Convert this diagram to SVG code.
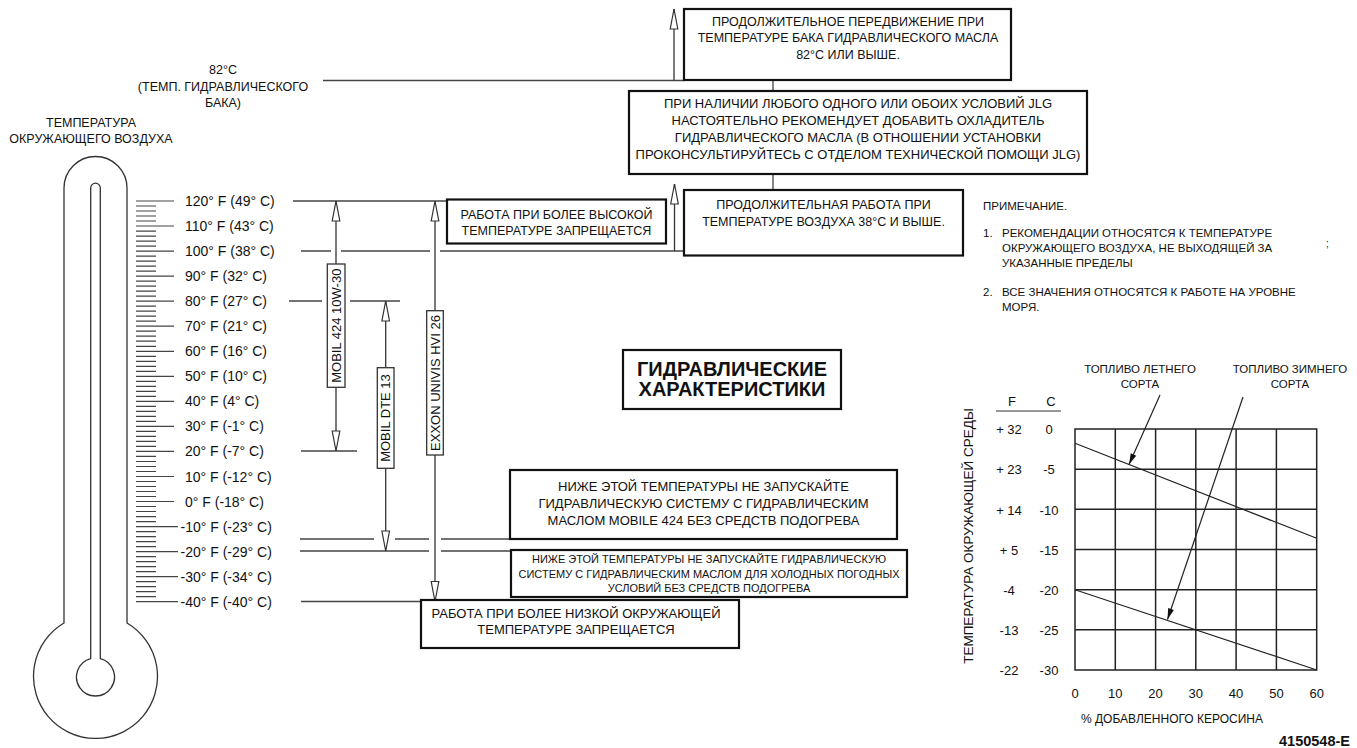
<svg xmlns="http://www.w3.org/2000/svg" width="1357" height="748" viewBox="0 0 1357 748">
<defs>
<style>
text{font-family:"Liberation Sans",Arial,sans-serif;fill:#111}
.t{font-size:13px;text-anchor:middle}
.s{font-size:12.5px;text-anchor:middle}
.sm{font-size:11px;text-anchor:middle}
.sc{font-size:14px}
.v{font-size:13px;text-anchor:middle}
.n{font-size:11.5px}
.cn{font-size:13px;text-anchor:middle}
.ttl{font-size:20px;font-weight:bold;text-anchor:middle}
.box{fill:#fff;stroke:#111;stroke-width:2.2}
.lbl{fill:#fff;stroke:#333;stroke-width:1.3}
.ln{fill:none;stroke:#444;stroke-width:1.3}
.arr{fill:none;stroke:#333;stroke-width:1.3;marker-end:url(#oa)}
.darr{fill:none;stroke:#333;stroke-width:1.3;marker-start:url(#oa);marker-end:url(#oa)}
.farr{fill:none;stroke:#222;stroke-width:1.2;marker-end:url(#fa)}
.grid{fill:none;stroke:#222;stroke-width:1.5}
.thermo{fill:none;stroke:#333;stroke-width:1.3}
.tick{fill:none;stroke:#444;stroke-width:1.2}
</style>
<marker id="oa" viewBox="-22 -5 24 10" refX="0" refY="0" markerWidth="24" markerHeight="10" markerUnits="userSpaceOnUse" orient="auto-start-reverse">
<path d="M0,0 L-20,-3.8 L-20,3.8 Z" fill="#fff" stroke="#333" stroke-width="1.2"/>
</marker>
<marker id="fa" viewBox="-12 -4 13 8" refX="0" refY="0" markerWidth="13" markerHeight="8" markerUnits="userSpaceOnUse" orient="auto">
<path d="M0,0 L-11,-3 L-11,3 Z" fill="#111"/>
</marker>
</defs>
<rect width="1357" height="748" fill="#fff"/>

<g id="thermometer">
<path class="thermo" d="M64,623 V188 A31.5,31.5 0 0 1 127,188 V623 A62,62 0 1 1 64,623 Z"/>
<path class="thermo" d="M90.7,658.6 V188 A4.8,4.8 0 0 1 100.3,188 V658.6 A19,19 0 1 1 90.7,658.6 Z"/>
<text class="s" x="91" y="127">ТЕМПЕРАТУРА</text>
<text class="s" x="91" y="143">ОКРУЖАЮЩЕГО ВОЗДУХА</text>
</g>

<g id="scale">
<path class="tick" d="M136,206H156M136,211H156M136,216H156M136,221H156M136,231.1H156M136,236.1H156M136,241.1H156M136,246.1H156M136,256.1H156M136,261.1H156M136,266.1H156M136,271.1H156M136,281.1H156M136,286.1H156M136,291.2H156M136,296.2H156M136,306.2H156M136,311.2H156M136,316.2H156M136,321.2H156M136,331.2H156M136,336.2H156M136,341.2H156M136,346.3H156M136,356.3H156M136,361.3H156M136,366.3H156M136,371.3H156M136,381.3H156M136,386.3H156M136,391.3H156M136,396.3H156M136,406.4H156M136,411.4H156M136,416.4H156M136,421.4H156M136,431.4H156M136,436.4H156M136,441.4H156M136,446.4H156M136,456.4H156M136,461.5H156M136,466.5H156M136,471.5H156M136,481.5H156M136,486.5H156M136,491.5H156M136,496.5H156M136,506.5H156M136,511.5H156M136,516.6H156M136,521.6H156M136,531.6H156M136,536.6H156M136,541.6H156M136,546.6H156M136,556.6H156M136,561.6H156M136,566.6H156M136,571.7H156M136,581.7H156M136,586.7H156M136,591.7H156M136,596.7H156"/>
<path class="tick" d="M136,201H174M136,226H174M136,251.1H174M136,276.1H174M136,301.2H174M136,326.2H174M136,351.3H174M136,376.3H174M136,401.4H174M136,426.4H174M136,451.4H174M136,476.5H174M136,501.5H174M136,526.6H178M136,551.6H178M136,576.7H178M136,601.7H178"/>
<text class="sc" x="185" y="206">120° F (49° C)</text>
<text class="sc" x="185" y="231">110° F (43° C)</text>
<text class="sc" x="185" y="256">100° F (38° C)</text>
<text class="sc" x="185" y="281">90° F (32° C)</text>
<text class="sc" x="185" y="306">80° F (27° C)</text>
<text class="sc" x="185" y="331">70° F (21° C)</text>
<text class="sc" x="185" y="356">60° F (16° C)</text>
<text class="sc" x="185" y="381">50° F (10° C)</text>
<text class="sc" x="185" y="406">40° F (4° C)</text>
<text class="sc" x="185" y="431">30° F (-1° C)</text>
<text class="sc" x="185" y="456">20° F (-7° C)</text>
<text class="sc" x="185" y="481.5">10° F (-12° C)</text>
<text class="sc" x="185" y="506.5">0° F (-18° C)</text>
<text class="sc" x="180.5" y="531.5">-10° F (-23° C)</text>
<text class="sc" x="180.5" y="556.5">-20° F (-29° C)</text>
<text class="sc" x="180.5" y="581.5">-30° F (-34° C)</text>
<text class="sc" x="180.5" y="606.5">-40° F (-40° C)</text>
</g>

<g id="tank-label">
<text class="s" x="223" y="74">82°C</text>
<text class="s" x="223" y="90.5">(ТЕМП. ГИДРАВЛИЧЕСКОГО</text>
<text class="s" x="223" y="107">БАКА)</text>
</g>

<g id="connectors">
<path class="ln" d="M323,80.5H684"/>
<path class="ln" d="M293,201H447"/>
<path class="ln" d="M301,251H331M341,251H430M440,251H684"/>
<path class="ln" d="M289,301H322M350,301H400"/>
<path class="ln" d="M301,451H357"/>
<path class="ln" d="M300,539H374M395,539H429M441,539H510"/>
<path class="ln" d="M300,551H429M441,551H511"/>
<path class="ln" d="M301,601.5H421"/>
<path class="ln" d="M773,80V91M773,174V190"/>
<path class="arr" d="M674,80.5V9"/>
<path class="arr" d="M674.5,251V184"/>
<path class="darr" d="M336,201V451"/>
<path class="darr" d="M385.7,301V551"/>
<path class="darr" d="M435,201V601.5"/>
</g>

<g id="oil-mobil424">
<rect class="lbl" x="327.3" y="264" width="17.7" height="123.3"/>
<text class="v" transform="translate(340.8,325.7) rotate(-90)">MOBIL 424 10W-30</text>
</g>
<g id="oil-mobil-dte13">
<rect class="lbl" x="377.3" y="367.7" width="16.7" height="100.6"/>
<text class="v" transform="translate(390.3,418) rotate(-90)">MOBIL DTE 13</text>
</g>
<g id="oil-exxon">
<rect class="lbl" x="426.7" y="310.7" width="16.6" height="144.3"/>
<text class="v" transform="translate(439.6,383) rotate(-90)">EXXON UNIVIS HVI 26</text>
</g>

<g id="box-tank">
<rect class="box" x="684" y="9" width="327" height="71"/>
<text class="s" x="848" y="25.5">ПРОДОЛЖИТЕЛЬНОЕ ПЕРЕДВИЖЕНИЕ ПРИ</text>
<text class="s" x="848" y="42">ТЕМПЕРАТУРЕ БАКА ГИДРАВЛИЧЕСКОГО МАСЛА</text>
<text class="s" x="848" y="58.5">82°C ИЛИ ВЫШЕ.</text>
</g>

<g id="box-jlg">
<rect class="box" x="629" y="91" width="458" height="83"/>
<text class="t" x="858" y="107.5">ПРИ НАЛИЧИИ ЛЮБОГО ОДНОГО ИЛИ ОБОИХ УСЛОВИЙ JLG</text>
<text class="t" x="858" y="124.5">НАСТОЯТЕЛЬНО РЕКОМЕНДУЕТ ДОБАВИТЬ ОХЛАДИТЕЛЬ</text>
<text class="t" x="858" y="141.5">ГИДРАВЛИЧЕСКОГО МАСЛА (В ОТНОШЕНИИ УСТАНОВКИ</text>
<text class="t" x="858" y="158.5">ПРОКОНСУЛЬТИРУЙТЕСЬ С ОТДЕЛОМ ТЕХНИЧЕСКОЙ ПОМОЩИ JLG)</text>
</g>

<g id="box-air">
<rect class="box" x="684" y="190" width="279" height="65.5"/>
<text class="s" x="823.5" y="209">ПРОДОЛЖИТЕЛЬНАЯ РАБОТА ПРИ</text>
<text class="s" x="823.5" y="225.5">ТЕМПЕРАТУРЕ ВОЗДУХА 38°C И ВЫШЕ.</text>
</g>

<g id="box-high">
<rect class="box" x="447" y="199.5" width="219" height="44"/>
<text class="s" x="556.5" y="219">РАБОТА ПРИ БОЛЕЕ ВЫСОКОЙ</text>
<text class="s" x="556.5" y="235">ТЕМПЕРАТУРЕ ЗАПРЕЩАЕТСЯ</text>
</g>

<g id="notes">
<text class="n" x="983" y="209.5">ПРИМЕЧАНИЕ.</text>
<text class="n" x="983" y="237">1.</text>
<text class="n" x="1002" y="237">РЕКОМЕНДАЦИИ ОТНОСЯТСЯ К ТЕМПЕРАТУРЕ</text>
<text class="n" x="1002" y="252">ОКРУЖАЮЩЕГО ВОЗДУХА, НЕ ВЫХОДЯЩЕЙ ЗА</text>
<text class="n" x="1002" y="267">УКАЗАННЫЕ ПРЕДЕЛЫ</text>
<text class="n" x="983" y="295.5">2.</text>
<text class="n" x="1002" y="295.5">ВСЕ ЗНАЧЕНИЯ ОТНОСЯТСЯ К РАБОТЕ НА УРОВНЕ</text>
<text class="n" x="1002" y="310.5">МОРЯ.</text>
<text x="1326" y="247" font-size="10">;</text>
</g>

<g id="title">
<rect class="box" x="623" y="350" width="218" height="59"/>
<text class="ttl" x="732" y="376">ГИДРАВЛИЧЕСКИЕ</text>
<text class="ttl" x="732" y="396">ХАРАКТЕРИСТИКИ</text>
</g>

<g id="box-mobile424">
<rect class="box" x="510" y="470" width="387" height="69"/>
<text class="t" x="703.5" y="491">НИЖЕ ЭТОЙ ТЕМПЕРАТУРЫ НЕ ЗАПУСКАЙТЕ</text>
<text class="t" x="703.5" y="508">ГИДРАВЛИЧЕСКУЮ СИСТЕМУ С ГИДРАВЛИЧЕСКИМ</text>
<text class="t" x="703.5" y="525">МАСЛОМ MOBILE 424 БЕЗ СРЕДСТВ ПОДОГРЕВА</text>
</g>

<g id="box-cold">
<rect class="box" x="511" y="550" width="396" height="47"/>
<text class="sm" x="709" y="563">НИЖЕ ЭТОЙ ТЕМПЕРАТУРЫ НЕ ЗАПУСКАЙТЕ ГИДРАВЛИЧЕСКУЮ</text>
<text class="sm" x="709" y="577.5">СИСТЕМУ С ГИДРАВЛИЧЕСКИМ МАСЛОМ ДЛЯ ХОЛОДНЫХ ПОГОДНЫХ</text>
<text class="sm" x="709" y="591.5">УСЛОВИЙ БЕЗ СРЕДСТВ ПОДОГРЕВА</text>
</g>

<g id="box-low">
<rect class="box" x="421" y="600" width="318" height="48"/>
<text class="t" x="576" y="618">РАБОТА ПРИ БОЛЕЕ НИЗКОЙ ОКРУЖАЮЩЕЙ</text>
<text class="t" x="576" y="634">ТЕМПЕРАТУРЕ ЗАПРЕЩАЕТСЯ</text>
</g>

<g id="kerosene-chart">
<rect class="grid" x="1075" y="429" width="241.7" height="241"/>
<path class="grid" d="M1115.3,429V670M1155.6,429V670M1195.8,429V670M1236.1,429V670M1276.4,429V670M1075,469.2H1316.7M1075,509.3H1316.7M1075,549.5H1316.7M1075,589.7H1316.7M1075,629.8H1316.7"/>
<path fill="none" stroke="#222" stroke-width="1.2" d="M1075,443.3L1316.7,538.3M1075,589.7L1316.7,670"/>
<path class="farr" d="M1160,395L1129,464.5"/>
<path class="farr" d="M1243,397L1167.5,619.5"/>
<text class="n" x="1140" y="372.5" text-anchor="middle">ТОПЛИВО ЛЕТНЕГО</text>
<text class="n" x="1140" y="388" text-anchor="middle">СОРТА</text>
<text class="n" x="1290" y="372.5" text-anchor="middle">ТОПЛИВО ЗИМНЕГО</text>
<text class="n" x="1290" y="388" text-anchor="middle">СОРТА</text>
<text class="cn" x="1012" y="406">F</text>
<text class="cn" x="1051" y="406">C</text>
<path fill="none" stroke="#333" stroke-width="1.2" d="M996,411H1061"/>
<text class="cn" x="1009" y="434">+ 32</text>
<text class="cn" x="1009" y="474">+ 23</text>
<text class="cn" x="1009" y="514.5">+ 14</text>
<text class="cn" x="1009" y="554.5">+ 5</text>
<text class="cn" x="1009" y="594.5">-4</text>
<text class="cn" x="1009" y="634.5">-13</text>
<text class="cn" x="1009" y="675">-22</text>
<text class="cn" x="1049" y="434">0</text>
<text class="cn" x="1049" y="474">-5</text>
<text class="cn" x="1049" y="514.5">-10</text>
<text class="cn" x="1049" y="554.5">-15</text>
<text class="cn" x="1049" y="594.5">-20</text>
<text class="cn" x="1049" y="634.5">-25</text>
<text class="cn" x="1049" y="675">-30</text>
<text class="cn" x="1075" y="698">0</text>
<text class="cn" x="1115.3" y="698">10</text>
<text class="cn" x="1155.6" y="698">20</text>
<text class="cn" x="1195.8" y="698">30</text>
<text class="cn" x="1236.1" y="698">40</text>
<text class="cn" x="1276.4" y="698">50</text>
<text class="cn" x="1316.7" y="698">60</text>
<text x="1172" y="723" font-size="12" text-anchor="middle">% ДОБАВЛЕННОГО КЕРОСИНА</text>
<text transform="translate(972.5,536) rotate(-90)" font-size="13.5" text-anchor="middle">ТЕМПЕРАТУРА ОКРУЖАЮЩЕЙ СРЕДЫ</text>
</g>

<g id="code">
<text x="1350" y="746" font-size="14.5" font-weight="bold" text-anchor="end">4150548-E</text>
</g>
</svg>
